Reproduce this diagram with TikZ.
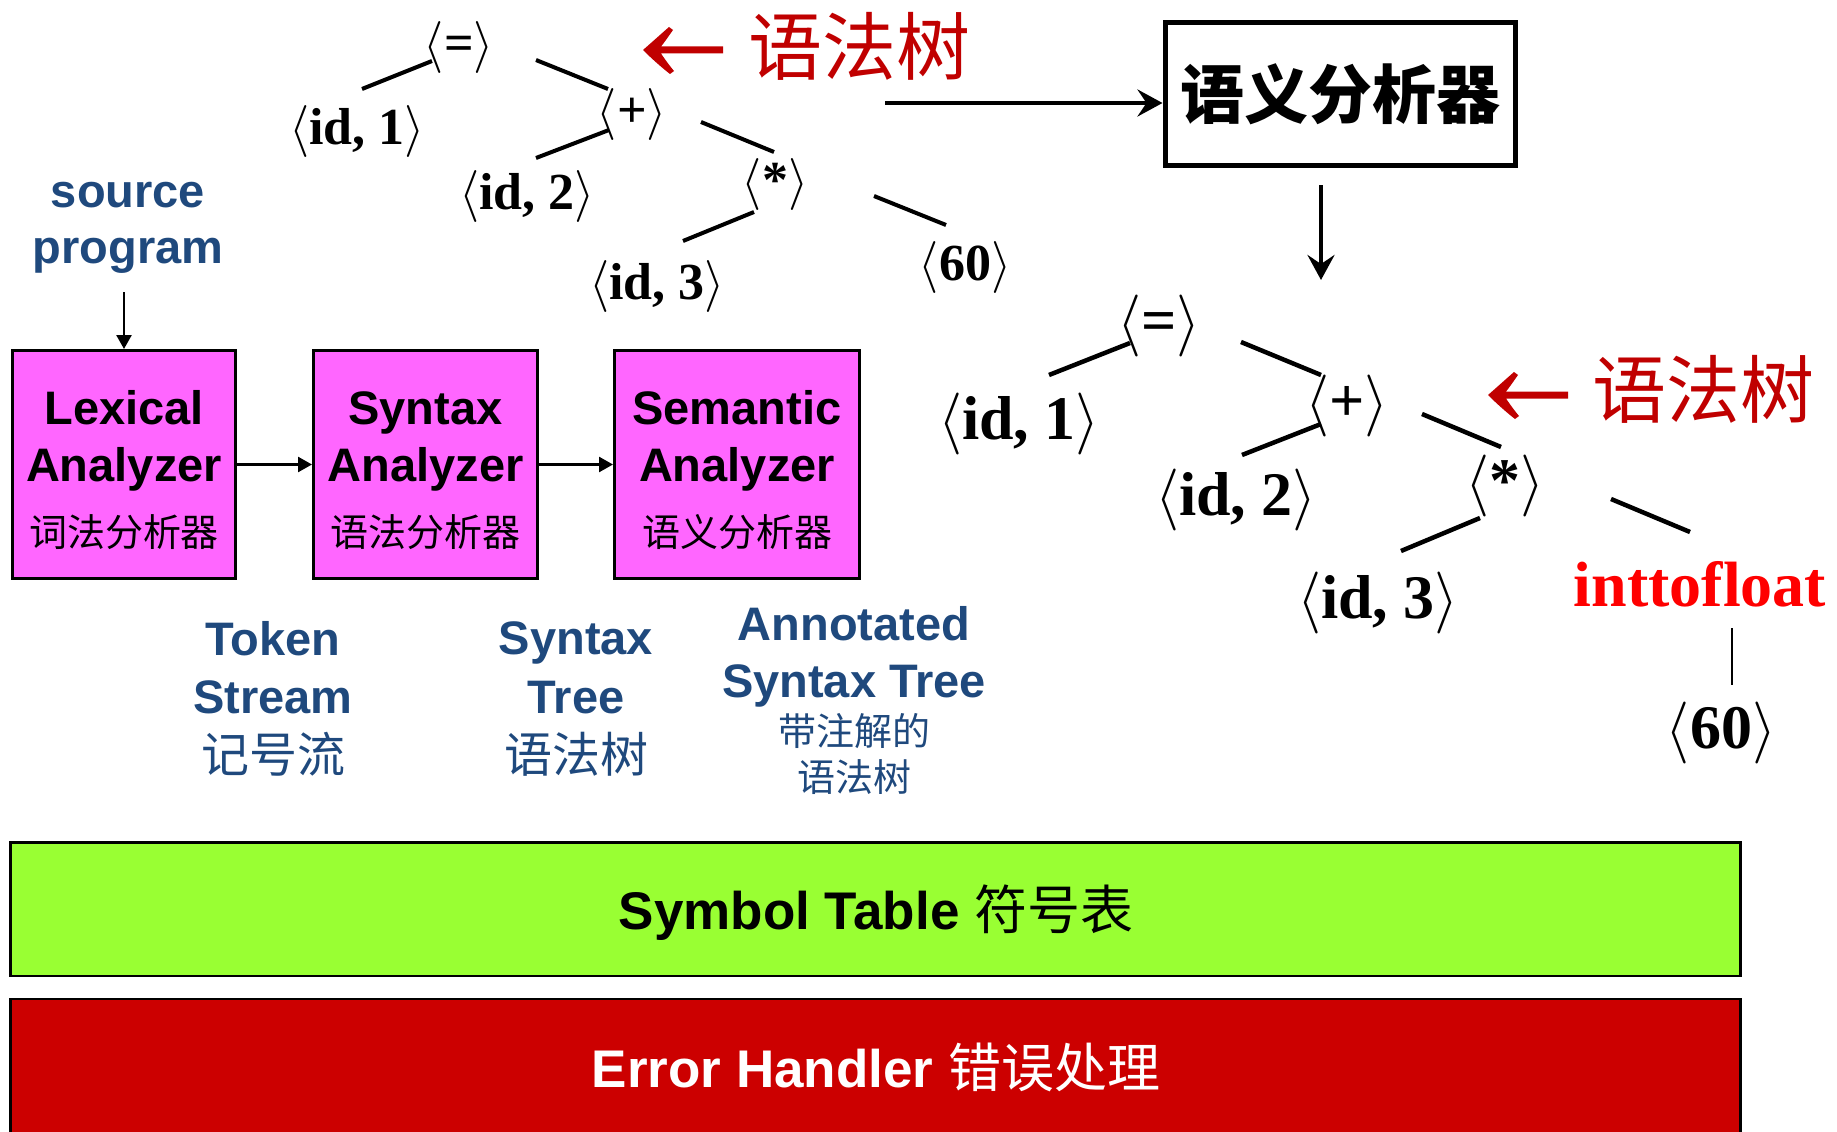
\RequirePackage{fix-cm}
\documentclass[tikz,border=0pt]{standalone}
\usepackage{fontspec}
\setmainfont{Liberation Serif}
\newfontfamily\arialfont{Liberation Sans}
\newfontfamily\cjkfont{Noto Sans CJK SC}
\usetikzlibrary{arrows.meta}

\definecolor{labelblue}{RGB}{31,73,125}
\definecolor{boxmagenta}{RGB}{255,102,255}
\definecolor{tablegreen}{RGB}{153,255,51}
\definecolor{errred}{RGB}{204,0,0}
\definecolor{annotred}{RGB}{192,0,0}
\definecolor{convred}{RGB}{255,0,0}

\tikzset{
  x=1pt, y=-1pt,
  treesmall/.style={inner sep=0pt, font=\fontsize{52}{60}\selectfont\bfseries},
  treebig/.style={inner sep=0pt, font=\fontsize{62}{72}\selectfont\bfseries},
  edgesmall/.style={line width=4pt},
  edgebig/.style={line width=4.5pt},
  phase/.style={draw=black, line width=3pt, fill=boxmagenta, inner sep=0pt,
                minimum height=228pt},
  phaseen/.style={anchor=base, inner sep=0pt, font=\arialfont\bfseries\fontsize{47}{56}\selectfont},
  phasezh/.style={inner sep=0pt, font=\cjkfont\fontsize{38}{46}\selectfont},
  flow/.style={line width=2.5pt, -{Triangle[length=14pt, width=15pt]}},
  bluetxt/.style={anchor=base, inner sep=0pt, text=labelblue,
                  font=\arialfont\bfseries\fontsize{47}{56}\selectfont},
  bluezh/.style={inner sep=0pt, text=labelblue, font=\cjkfont\fontsize{48}{56}\selectfont},
  bluezhsmall/.style={inner sep=0pt, text=labelblue, font=\cjkfont\fontsize{38}{46}\selectfont},
  annot/.style={inner sep=0pt, text=annotred, font=\cjkfont\fontsize{74}{80}\selectfont},
  bar/.style={draw=black, line width=2.5pt, inner sep=0pt, minimum width=1730pt},
  bartxt/.style={anchor=base, inner sep=0pt, font=\fontsize{53}{60}\selectfont},
  bigarrow/.style={line width=4.5pt, -{Stealth[length=25pt, width=27pt, inset=9pt]}},
  redarrow/.pic={
    \fill[annotred] (0,0)
      .. controls (8,-7) and (18,-16) .. (26,-23)
      -- (30,-20)
      .. controls (25,-13) and (21,-7) .. (18,-3.5)
      -- (80,-3.5) -- (80,3.5) -- (18,3.5)
      .. controls (21,8) and (26,15) .. (31,21)
      -- (27,24)
      .. controls (18,17) and (8,8) .. (0,0) -- cycle;
  },
}

\begin{document}
\begin{tikzpicture}
\useasboundingbox (0,0) rectangle (1837,1132);

% ---------- syntax tree (upper left) ----------
\node[treesmall] (t1eq)    at (459,47)  {\(\langle\)=\(\rangle\)};
\node[treesmall] (t1id1)   at (357,131) {\(\langle\)id, 1\(\rangle\)};
\node[treesmall] (t1plus)  at (632,114) {\(\langle\)+\(\rangle\)};
\node[treesmall] (t1id2)   at (527,196) {\(\langle\)id, 2\(\rangle\)};
\node[treesmall] (t1star)  at (775,184) {\(\langle\)*\(\rangle\)};
\node[treesmall] (t1id3)   at (657,286) {\(\langle\)id, 3\(\rangle\)};
\node[treesmall] (t1sixty) at (965,267) {\(\langle\)60\(\rangle\)};

\draw[edgesmall] ([shift={(-27,14)}]t1eq.center)   -- ([shift={(5,-42)}]t1id1.center);
\draw[edgesmall] ([shift={(77,13)}]t1eq.center)    -- ([shift={(-24,-25)}]t1plus.center);
\draw[edgesmall] ([shift={(-23,16)}]t1plus.center) -- ([shift={(9,-38)}]t1id2.center);
\draw[edgesmall] ([shift={(69,8)}]t1plus.center)   -- ([shift={(-1,-32)}]t1star.center);
\draw[edgesmall] ([shift={(-21,28)}]t1star.center) -- ([shift={(26,-45)}]t1id3.center);
\draw[edgesmall] ([shift={(99,12)}]t1star.center)  -- ([shift={(-19,-42)}]t1sixty.center);

\pic at (643,50) {redarrow};
\node[annot] (t1name) at (859,46) {语法树};

% ---------- semantic analyzer ----------
\node[draw=black, line width=5pt, inner sep=0pt, minimum width=350pt, minimum height=143pt,
      font=\cjkfont\bfseries\fontsize{64}{70}\selectfont] (sem) at (1340,94) {语义分析器};
\coordinate (treeout) at (885,103);
\draw[bigarrow] (treeout) -- (treeout -| sem.west);
\coordinate (semout) at (1321,185);
\coordinate (semin)  at (1321,280);
\draw[bigarrow] (semout) -- (semin);

% ---------- annotated syntax tree (right) ----------
\node[treebig] (t2eq)    at (1159,326) {\(\langle\)=\(\rangle\)};
\node[treebig] (t2id1)   at (1019,424) {\(\langle\)id, 1\(\rangle\)};
\node[treebig] (t2plus)  at (1347,406) {\(\langle\)+\(\rangle\)};
\node[treebig] (t2id2)   at (1236,500) {\(\langle\)id, 2\(\rangle\)};
\node[treebig] (t2star)  at (1505,486) {\(\langle\)*\(\rangle\)};
\node[treebig] (t2id3)   at (1378,603) {\(\langle\)id, 3\(\rangle\)};
\node[anchor=base, inner sep=0pt, text=convred, font=\fontsize{64}{72}\selectfont\bfseries]
      (t2conv) at (1700,606) {inttofloat};
\node[treebig] (t2sixty) at (1721,733) {\(\langle\)60\(\rangle\)};

\draw[edgebig] ([shift={(-29,17)}]t2eq.center)   -- ([shift={(30,-49)}]t2id1.center);
\draw[edgebig] ([shift={(82,16)}]t2eq.center)    -- ([shift={(-26,-31)}]t2plus.center);
\draw[edgebig] ([shift={(-26,18)}]t2plus.center) -- ([shift={(6,-45)}]t2id2.center);
\draw[edgebig] ([shift={(75,8)}]t2plus.center)   -- ([shift={(-4,-39)}]t2star.center);
\draw[edgebig] ([shift={(-25,32)}]t2star.center) -- ([shift={(23,-52)}]t2id3.center);
\draw[edgebig] ([shift={(106,13)}]t2star.center) -- ([shift={(-10,-74)}]t2conv.base);
\draw[line width=2pt] ([shift={(32,22)}]t2conv.base) -- ([shift={(11,-48)}]t2sixty.center);

\pic at (1488,395) {redarrow};
\node[annot] (t2name) at (1703,389) {语法树};

% ---------- compiler phases ----------
\node[bluetxt] (srcA) at (128,207) {source};
\node[bluetxt] (srcB) at (128,263) {program};
\coordinate (srcend) at (124,292);

\node[phase, minimum width=223pt] (lex) at (124,464.5) {};
\node[phase, minimum width=224pt] (syn) at (425.5,464.5) {};
\node[phase, minimum width=245pt] (smt) at (737,464.5) {};

\node[phaseen] (lexA) at (124,424) {Lexical};
\node[phaseen] (lexB) at (124,481) {Analyzer};
\node[phasezh] (lexC) at (124,532) {词法分析器};
\node[phaseen] (synA) at (425.5,424) {Syntax};
\node[phaseen] (synB) at (425.5,481) {Analyzer};
\node[phasezh] (synC) at (425.5,532) {语法分析器};
\node[phaseen] (smtA) at (737,424) {Semantic};
\node[phaseen] (smtB) at (737,481) {Analyzer};
\node[phasezh] (smtC) at (737,532) {语义分析器};

\draw[flow] (srcend) -- (lex.north);
\draw[flow] (lex.east) -- (syn.west);
\draw[flow] (syn.east) -- (smt.west);

% ---------- intermediate representations ----------
\node[bluetxt] (tokA) at (273,655) {Token};
\node[bluetxt] (tokB) at (273,713) {Stream};
\node[bluezh]  (tokC) at (273,754) {记号流};
\node[bluetxt] (stA)  at (576,654) {Syntax};
\node[bluetxt] (stB)  at (576,713) {Tree};
\node[bluezh]  (stC)  at (576,754) {语法树};
\node[bluetxt] (astA) at (854,640) {Annotated};
\node[bluetxt] (astB) at (854,697) {Syntax Tree};
\node[bluezhsmall] (astC) at (854,731) {带注解的};
\node[bluezhsmall] (astD) at (854,777) {语法树};

% ---------- shared components ----------
\node[bar, fill=tablegreen, minimum height=133.5pt] (symtab) at (875.5,909) {};
\node[bartxt] (symtxt) at (876,929) {{\arialfont\bfseries Symbol Table }{\cjkfont 符号表}};
\node[bar, fill=errred, minimum height=150pt] (errh) at (875.5,1074) {};
\node[bartxt, text=white] (errtxt) at (876,1087) {{\arialfont\bfseries Error Handler }{\cjkfont 错误处理}};
\end{tikzpicture}
\end{document}
